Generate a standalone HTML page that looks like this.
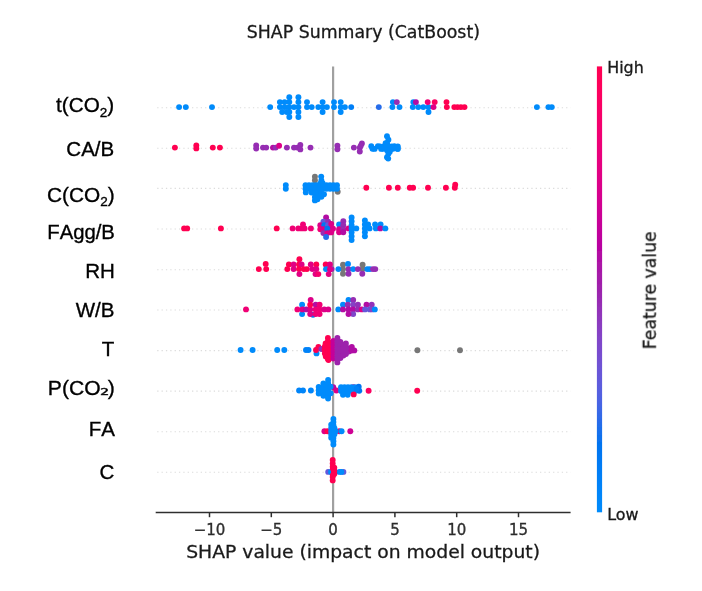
<!DOCTYPE html>
<html lang="en"><head><meta charset="utf-8"><title>SHAP Summary (CatBoost)</title>
<style>html,body{margin:0;padding:0;background:#fff}body{width:702px;height:591px;overflow:hidden}svg{display:block}.dv{font-family:"DejaVu Sans","Liberation Sans",sans-serif;stroke:#1a1a1a;stroke-width:.3px}.ar{font-family:"Liberation Sans",Arial,sans-serif;font-kerning:none;stroke:#000;stroke-width:.35px}</style></head><body>
<svg width="702" height="591" viewBox="0 0 702 591">
<defs><linearGradient id="cb" x1="0" y1="0" x2="0" y2="1"><stop offset="0.00" stop-color="#ff0051"/><stop offset="0.05" stop-color="#fe005c"/><stop offset="0.10" stop-color="#f80067"/><stop offset="0.15" stop-color="#f10072"/><stop offset="0.20" stop-color="#e9007c"/><stop offset="0.25" stop-color="#df0086"/><stop offset="0.30" stop-color="#d40090"/><stop offset="0.35" stop-color="#c70098"/><stop offset="0.40" stop-color="#b900a0"/><stop offset="0.45" stop-color="#aa17a7"/><stop offset="0.50" stop-color="#9d22ac"/><stop offset="0.55" stop-color="#9233b9"/><stop offset="0.60" stop-color="#8542c5"/><stop offset="0.65" stop-color="#764ed0"/><stop offset="0.70" stop-color="#6459da"/><stop offset="0.75" stop-color="#4c63e3"/><stop offset="0.80" stop-color="#266cea"/><stop offset="0.85" stop-color="#0074f0"/><stop offset="0.90" stop-color="#007cf5"/><stop offset="0.95" stop-color="#0084f9"/><stop offset="1.00" stop-color="#008bfb"/></linearGradient><filter id="soft" x="-2%" y="-2%" width="104%" height="104%"><feGaussianBlur stdDeviation="0.6"/></filter></defs>
<rect width="702" height="591" fill="#ffffff"/>
<g filter="url(#soft)">
<text class="dv" transform="translate(363.4,38.45) scale(1.027,1)" font-size="16.9" text-anchor="middle" fill="#1a1a1a">SHAP Summary (CatBoost)</text>
<line x1="157.2" y1="107.7" x2="570.6" y2="107.7" stroke="#dcdcdc" stroke-width="1.1" stroke-dasharray="1.3 3.05"/>
<line x1="157.2" y1="148.2" x2="570.6" y2="148.2" stroke="#dcdcdc" stroke-width="1.1" stroke-dasharray="1.3 3.05"/>
<line x1="157.2" y1="188.4" x2="570.6" y2="188.4" stroke="#dcdcdc" stroke-width="1.1" stroke-dasharray="1.3 3.05"/>
<line x1="157.2" y1="229.0" x2="570.6" y2="229.0" stroke="#dcdcdc" stroke-width="1.1" stroke-dasharray="1.3 3.05"/>
<line x1="157.2" y1="269.7" x2="570.6" y2="269.7" stroke="#dcdcdc" stroke-width="1.1" stroke-dasharray="1.3 3.05"/>
<line x1="157.2" y1="310.0" x2="570.6" y2="310.0" stroke="#dcdcdc" stroke-width="1.1" stroke-dasharray="1.3 3.05"/>
<line x1="157.2" y1="350.6" x2="570.6" y2="350.6" stroke="#dcdcdc" stroke-width="1.1" stroke-dasharray="1.3 3.05"/>
<line x1="157.2" y1="391.1" x2="570.6" y2="391.1" stroke="#dcdcdc" stroke-width="1.1" stroke-dasharray="1.3 3.05"/>
<line x1="157.2" y1="431.8" x2="570.6" y2="431.8" stroke="#dcdcdc" stroke-width="1.1" stroke-dasharray="1.3 3.05"/>
<line x1="157.2" y1="472.2" x2="570.6" y2="472.2" stroke="#dcdcdc" stroke-width="1.1" stroke-dasharray="1.3 3.05"/>
<line x1="333.1" y1="66.4" x2="333.1" y2="512.4" stroke="#a0a0a0" stroke-width="2.2"/>
<circle cx="179.1" cy="107.1" r="2.95" fill="#008bfb"/>
<circle cx="185.8" cy="107.1" r="2.95" fill="#008bfb"/>
<circle cx="212.0" cy="107.1" r="2.95" fill="#008bfb"/>
<circle cx="270.2" cy="107.1" r="2.95" fill="#008bfb"/>
<circle cx="289.3" cy="97.2" r="2.95" fill="#008bfb"/>
<circle cx="298.4" cy="97.2" r="2.95" fill="#008bfb"/>
<circle cx="279.9" cy="102.1" r="2.95" fill="#008bfb"/>
<circle cx="284.6" cy="102.1" r="2.95" fill="#008bfb"/>
<circle cx="289.3" cy="102.1" r="2.95" fill="#008bfb"/>
<circle cx="298.4" cy="102.1" r="2.95" fill="#008bfb"/>
<circle cx="307.0" cy="102.1" r="2.95" fill="#008bfb"/>
<circle cx="322.6" cy="102.1" r="2.95" fill="#008bfb"/>
<circle cx="334.0" cy="102.1" r="2.95" fill="#008bfb"/>
<circle cx="340.7" cy="102.1" r="2.95" fill="#008bfb"/>
<circle cx="279.9" cy="107.1" r="2.95" fill="#008bfb"/>
<circle cx="284.6" cy="107.1" r="2.95" fill="#008bfb"/>
<circle cx="289.3" cy="107.1" r="2.95" fill="#008bfb"/>
<circle cx="294.0" cy="107.1" r="2.95" fill="#008bfb"/>
<circle cx="298.4" cy="107.1" r="2.95" fill="#008bfb"/>
<circle cx="307.0" cy="107.1" r="2.95" fill="#008bfb"/>
<circle cx="311.7" cy="107.1" r="2.95" fill="#008bfb"/>
<circle cx="318.3" cy="107.1" r="2.95" fill="#008bfb"/>
<circle cx="322.6" cy="107.1" r="2.95" fill="#008bfb"/>
<circle cx="326.9" cy="107.1" r="2.95" fill="#008bfb"/>
<circle cx="334.0" cy="107.1" r="2.95" fill="#008bfb"/>
<circle cx="340.7" cy="107.1" r="2.95" fill="#008bfb"/>
<circle cx="344.9" cy="107.1" r="2.95" fill="#008bfb"/>
<circle cx="282.2" cy="112.0" r="2.95" fill="#008bfb"/>
<circle cx="286.9" cy="112.0" r="2.95" fill="#008bfb"/>
<circle cx="289.3" cy="112.0" r="2.95" fill="#008bfb"/>
<circle cx="298.4" cy="112.0" r="2.95" fill="#008bfb"/>
<circle cx="322.6" cy="112.0" r="2.95" fill="#008bfb"/>
<circle cx="340.7" cy="112.0" r="2.95" fill="#008bfb"/>
<circle cx="289.3" cy="117.0" r="2.95" fill="#008bfb"/>
<circle cx="298.4" cy="117.0" r="2.95" fill="#008bfb"/>
<circle cx="351.2" cy="107.1" r="2.95" fill="#007ff7"/>
<circle cx="378.8" cy="107.1" r="2.95" fill="#266cea"/>
<circle cx="392.4" cy="107.1" r="2.95" fill="#008bfb"/>
<circle cx="399.5" cy="107.1" r="2.95" fill="#008bfb"/>
<circle cx="412.8" cy="107.1" r="2.95" fill="#008bfb"/>
<circle cx="418.3" cy="107.1" r="2.95" fill="#008bfb"/>
<circle cx="423.3" cy="107.1" r="2.95" fill="#008bfb"/>
<circle cx="392.9" cy="102.1" r="2.95" fill="#008bfb"/>
<circle cx="396.8" cy="102.1" r="2.95" fill="#962db3"/>
<circle cx="413.3" cy="102.1" r="2.95" fill="#008bfb"/>
<circle cx="415.9" cy="102.1" r="2.95" fill="#b30aa3"/>
<circle cx="428.5" cy="107.1" r="2.95" fill="#008bfb"/>
<circle cx="428.5" cy="112.0" r="2.95" fill="#008bfb"/>
<circle cx="427.7" cy="102.1" r="2.95" fill="#f00074"/>
<circle cx="434.7" cy="102.1" r="2.95" fill="#fb0063"/>
<circle cx="433.5" cy="107.1" r="2.95" fill="#dd0088"/>
<circle cx="446.5" cy="102.1" r="2.95" fill="#ff0051"/>
<circle cx="446.8" cy="107.1" r="2.95" fill="#ff0051"/>
<circle cx="454.3" cy="107.1" r="2.95" fill="#ff0051"/>
<circle cx="457.5" cy="107.1" r="2.95" fill="#ff0051"/>
<circle cx="460.9" cy="107.1" r="2.95" fill="#ff0051"/>
<circle cx="464.5" cy="107.1" r="2.95" fill="#ff0051"/>
<circle cx="536.9" cy="107.1" r="2.95" fill="#008bfb"/>
<circle cx="548.4" cy="107.1" r="2.95" fill="#008bfb"/>
<circle cx="551.8" cy="107.1" r="2.95" fill="#008bfb"/>
<circle cx="174.9" cy="147.6" r="2.95" fill="#ff0051"/>
<circle cx="196.3" cy="145.4" r="2.95" fill="#ff0051"/>
<circle cx="196.3" cy="148.4" r="2.95" fill="#ff0051"/>
<circle cx="212.8" cy="147.6" r="2.95" fill="#ff0051"/>
<circle cx="219.9" cy="147.6" r="2.95" fill="#ff0051"/>
<circle cx="256.2" cy="145.4" r="2.95" fill="#962db3"/>
<circle cx="256.2" cy="148.6" r="2.95" fill="#962db3"/>
<circle cx="263.0" cy="147.6" r="2.95" fill="#962db3"/>
<circle cx="266.2" cy="147.6" r="2.95" fill="#962db3"/>
<circle cx="273.0" cy="147.6" r="2.95" fill="#b30aa3"/>
<circle cx="275.7" cy="147.6" r="2.95" fill="#962db3"/>
<circle cx="279.1" cy="145.8" r="2.95" fill="#dd0088"/>
<circle cx="286.9" cy="147.6" r="2.95" fill="#962db3"/>
<circle cx="294.0" cy="147.6" r="2.95" fill="#962db3"/>
<circle cx="297.3" cy="147.6" r="2.95" fill="#962db3"/>
<circle cx="300.3" cy="145.0" r="2.95" fill="#962db3"/>
<circle cx="300.3" cy="149.4" r="2.95" fill="#962db3"/>
<circle cx="310.5" cy="147.6" r="2.95" fill="#962db3"/>
<circle cx="337.4" cy="145.6" r="2.95" fill="#962db3"/>
<circle cx="337.4" cy="149.2" r="2.95" fill="#962db3"/>
<circle cx="353.9" cy="147.6" r="2.95" fill="#962db3"/>
<circle cx="359.8" cy="147.6" r="2.95" fill="#962db3"/>
<circle cx="359.8" cy="151.5" r="2.95" fill="#962db3"/>
<circle cx="361.9" cy="143.4" r="2.95" fill="#962db3"/>
<circle cx="360.8" cy="145.8" r="2.95" fill="#962db3"/>
<circle cx="386.6" cy="143.6" r="2.95" fill="#b30aa3"/>
<circle cx="371.3" cy="146.3" r="2.95" fill="#008bfb"/>
<circle cx="374.6" cy="148.9" r="2.95" fill="#008bfb"/>
<circle cx="377.9" cy="146.3" r="2.95" fill="#008bfb"/>
<circle cx="381.2" cy="148.9" r="2.95" fill="#008bfb"/>
<circle cx="384.5" cy="146.3" r="2.95" fill="#008bfb"/>
<circle cx="391.0" cy="148.9" r="2.95" fill="#008bfb"/>
<circle cx="394.3" cy="146.3" r="2.95" fill="#008bfb"/>
<circle cx="397.6" cy="148.9" r="2.95" fill="#008bfb"/>
<circle cx="372.5" cy="148.8" r="2.95" fill="#008bfb"/>
<circle cx="383.0" cy="148.8" r="2.95" fill="#008bfb"/>
<circle cx="393.0" cy="148.8" r="2.95" fill="#008bfb"/>
<circle cx="397.8" cy="148.8" r="2.95" fill="#008bfb"/>
<circle cx="380.0" cy="146.4" r="2.95" fill="#008bfb"/>
<circle cx="384.2" cy="146.4" r="2.95" fill="#008bfb"/>
<circle cx="391.5" cy="146.4" r="2.95" fill="#008bfb"/>
<circle cx="397.8" cy="146.4" r="2.95" fill="#008bfb"/>
<circle cx="387.0" cy="136.3" r="2.95" fill="#008bfb"/>
<circle cx="388.4" cy="139.8" r="2.95" fill="#008bfb"/>
<circle cx="387.0" cy="143.3" r="2.95" fill="#008bfb"/>
<circle cx="388.4" cy="146.8" r="2.95" fill="#008bfb"/>
<circle cx="387.0" cy="150.3" r="2.95" fill="#008bfb"/>
<circle cx="388.4" cy="153.8" r="2.95" fill="#008bfb"/>
<circle cx="387.0" cy="157.3" r="2.95" fill="#008bfb"/>
<circle cx="388.2" cy="158.6" r="2.95" fill="#008bfb"/>
<circle cx="385.6" cy="143.2" r="2.95" fill="#008bfb"/>
<circle cx="389.8" cy="151.8" r="2.95" fill="#008bfb"/>
<circle cx="314.9" cy="176.6" r="2.95" fill="#777777"/>
<circle cx="314.9" cy="180.3" r="2.95" fill="#777777"/>
<circle cx="337.7" cy="191.8" r="2.95" fill="#777777"/>
<circle cx="285.8" cy="185.1" r="2.95" fill="#008bfb"/>
<circle cx="285.8" cy="188.7" r="2.95" fill="#008bfb"/>
<circle cx="305.5" cy="185.2" r="2.95" fill="#008bfb"/>
<circle cx="305.5" cy="188.8" r="2.95" fill="#008bfb"/>
<circle cx="309.0" cy="185.2" r="2.95" fill="#008bfb"/>
<circle cx="309.0" cy="188.8" r="2.95" fill="#008bfb"/>
<circle cx="312.5" cy="185.2" r="2.95" fill="#008bfb"/>
<circle cx="312.5" cy="188.8" r="2.95" fill="#008bfb"/>
<circle cx="316.0" cy="185.2" r="2.95" fill="#008bfb"/>
<circle cx="316.0" cy="188.8" r="2.95" fill="#008bfb"/>
<circle cx="319.5" cy="185.2" r="2.95" fill="#008bfb"/>
<circle cx="319.5" cy="188.8" r="2.95" fill="#008bfb"/>
<circle cx="323.0" cy="185.2" r="2.95" fill="#008bfb"/>
<circle cx="323.0" cy="188.8" r="2.95" fill="#008bfb"/>
<circle cx="326.5" cy="185.2" r="2.95" fill="#008bfb"/>
<circle cx="326.5" cy="188.8" r="2.95" fill="#008bfb"/>
<circle cx="330.0" cy="185.2" r="2.95" fill="#008bfb"/>
<circle cx="330.0" cy="188.8" r="2.95" fill="#008bfb"/>
<circle cx="333.5" cy="185.2" r="2.95" fill="#008bfb"/>
<circle cx="333.5" cy="188.8" r="2.95" fill="#008bfb"/>
<circle cx="337.0" cy="185.2" r="2.95" fill="#008bfb"/>
<circle cx="337.0" cy="188.8" r="2.95" fill="#008bfb"/>
<circle cx="321.2" cy="176.6" r="2.95" fill="#008bfb"/>
<circle cx="321.4" cy="180.4" r="2.95" fill="#008bfb"/>
<circle cx="320.2" cy="183.6" r="2.95" fill="#008bfb"/>
<circle cx="322.6" cy="183.2" r="2.95" fill="#008bfb"/>
<circle cx="305.8" cy="192.4" r="2.95" fill="#008bfb"/>
<circle cx="311.5" cy="192.6" r="2.95" fill="#008bfb"/>
<circle cx="314.9" cy="193.0" r="2.95" fill="#008bfb"/>
<circle cx="318.0" cy="193.0" r="2.95" fill="#008bfb"/>
<circle cx="321.3" cy="193.0" r="2.95" fill="#008bfb"/>
<circle cx="324.0" cy="194.3" r="2.95" fill="#008bfb"/>
<circle cx="314.9" cy="197.0" r="2.95" fill="#008bfb"/>
<circle cx="318.4" cy="196.6" r="2.95" fill="#008bfb"/>
<circle cx="321.4" cy="196.8" r="2.95" fill="#008bfb"/>
<circle cx="314.9" cy="200.4" r="2.95" fill="#008bfb"/>
<circle cx="317.5" cy="199.3" r="2.95" fill="#008bfb"/>
<circle cx="366.3" cy="187.8" r="2.95" fill="#ff0051"/>
<circle cx="388.9" cy="187.8" r="2.95" fill="#ff0051"/>
<circle cx="397.8" cy="187.8" r="2.95" fill="#ff0051"/>
<circle cx="409.8" cy="187.8" r="2.95" fill="#ff0051"/>
<circle cx="413.1" cy="187.8" r="2.95" fill="#ff0051"/>
<circle cx="428.0" cy="187.8" r="2.95" fill="#ff0051"/>
<circle cx="445.9" cy="187.8" r="2.95" fill="#ff0051"/>
<circle cx="454.8" cy="187.8" r="2.95" fill="#ff0051"/>
<circle cx="455.2" cy="184.7" r="2.95" fill="#ff0051"/>
<circle cx="184.1" cy="228.4" r="2.95" fill="#ff0051"/>
<circle cx="187.2" cy="228.4" r="2.95" fill="#ff0051"/>
<circle cx="220.9" cy="228.4" r="2.95" fill="#ff0051"/>
<circle cx="276.7" cy="228.4" r="2.95" fill="#ff0051"/>
<circle cx="292.6" cy="228.4" r="2.95" fill="#f00074"/>
<circle cx="298.3" cy="228.4" r="2.95" fill="#f00074"/>
<circle cx="301.5" cy="228.4" r="2.95" fill="#f00074"/>
<circle cx="304.6" cy="228.4" r="2.95" fill="#f00074"/>
<circle cx="310.9" cy="228.4" r="2.95" fill="#f00074"/>
<circle cx="303.0" cy="224.5" r="2.95" fill="#f00074"/>
<circle cx="326.1" cy="217.4" r="2.95" fill="#b30aa3"/>
<circle cx="323.4" cy="221.8" r="2.95" fill="#6459da"/>
<circle cx="328.1" cy="221.8" r="2.95" fill="#962db3"/>
<circle cx="320.3" cy="225.2" r="2.95" fill="#dd0088"/>
<circle cx="324.2" cy="225.2" r="2.95" fill="#0076f1"/>
<circle cx="328.1" cy="225.2" r="2.95" fill="#6459da"/>
<circle cx="331.2" cy="223.9" r="2.95" fill="#dd0088"/>
<circle cx="320.3" cy="229.2" r="2.95" fill="#f00074"/>
<circle cx="323.4" cy="229.2" r="2.95" fill="#dd0088"/>
<circle cx="331.2" cy="228.7" r="2.95" fill="#dd0088"/>
<circle cx="333.0" cy="228.7" r="2.95" fill="#dd0088"/>
<circle cx="327.3" cy="228.7" r="2.95" fill="#0076f1"/>
<circle cx="323.4" cy="233.1" r="2.95" fill="#962db3"/>
<circle cx="327.3" cy="233.1" r="2.95" fill="#dd0088"/>
<circle cx="331.2" cy="232.4" r="2.95" fill="#dd0088"/>
<circle cx="326.1" cy="237.0" r="2.95" fill="#266cea"/>
<circle cx="339.1" cy="224.5" r="2.95" fill="#008bfb"/>
<circle cx="339.1" cy="229.2" r="2.95" fill="#dd0088"/>
<circle cx="339.1" cy="232.3" r="2.95" fill="#dd0088"/>
<circle cx="343.3" cy="221.3" r="2.95" fill="#962db3"/>
<circle cx="343.3" cy="225.2" r="2.95" fill="#962db3"/>
<circle cx="343.3" cy="229.2" r="2.95" fill="#962db3"/>
<circle cx="343.3" cy="232.3" r="2.95" fill="#b30aa3"/>
<circle cx="348.5" cy="228.4" r="2.95" fill="#dd0088"/>
<circle cx="351.6" cy="217.4" r="2.95" fill="#008bfb"/>
<circle cx="351.6" cy="221.3" r="2.95" fill="#008bfb"/>
<circle cx="351.6" cy="225.2" r="2.95" fill="#008bfb"/>
<circle cx="351.6" cy="228.4" r="2.95" fill="#008bfb"/>
<circle cx="351.6" cy="232.3" r="2.95" fill="#008bfb"/>
<circle cx="351.6" cy="236.2" r="2.95" fill="#008bfb"/>
<circle cx="351.6" cy="240.1" r="2.95" fill="#008bfb"/>
<circle cx="356.3" cy="228.4" r="2.95" fill="#008bfb"/>
<circle cx="364.9" cy="220.5" r="2.95" fill="#008bfb"/>
<circle cx="364.9" cy="224.5" r="2.95" fill="#008bfb"/>
<circle cx="364.9" cy="228.4" r="2.95" fill="#008bfb"/>
<circle cx="364.9" cy="232.3" r="2.95" fill="#008bfb"/>
<circle cx="364.9" cy="236.2" r="2.95" fill="#008bfb"/>
<circle cx="368.1" cy="224.5" r="2.95" fill="#008bfb"/>
<circle cx="369.6" cy="228.4" r="2.95" fill="#008bfb"/>
<circle cx="375.1" cy="224.5" r="2.95" fill="#008bfb"/>
<circle cx="375.9" cy="228.4" r="2.95" fill="#008bfb"/>
<circle cx="380.6" cy="224.5" r="2.95" fill="#008bfb"/>
<circle cx="380.3" cy="228.4" r="2.95" fill="#b30aa3"/>
<circle cx="385.3" cy="228.4" r="2.95" fill="#008bfb"/>
<circle cx="343.0" cy="264.7" r="2.95" fill="#777777"/>
<circle cx="343.0" cy="269.1" r="2.95" fill="#777777"/>
<circle cx="343.0" cy="273.7" r="2.95" fill="#777777"/>
<circle cx="362.6" cy="264.7" r="2.95" fill="#777777"/>
<circle cx="362.6" cy="269.1" r="2.95" fill="#777777"/>
<circle cx="258.8" cy="269.1" r="2.95" fill="#ff0051"/>
<circle cx="265.7" cy="263.9" r="2.95" fill="#ff0051"/>
<circle cx="266.2" cy="269.1" r="2.95" fill="#ff0051"/>
<circle cx="287.3" cy="269.1" r="2.95" fill="#ff0051"/>
<circle cx="288.9" cy="264.4" r="2.95" fill="#ff0051"/>
<circle cx="293.6" cy="264.4" r="2.95" fill="#e10084"/>
<circle cx="293.6" cy="269.1" r="2.95" fill="#e10084"/>
<circle cx="299.4" cy="259.2" r="2.95" fill="#ff0051"/>
<circle cx="299.0" cy="264.4" r="2.95" fill="#ff0051"/>
<circle cx="301.6" cy="264.4" r="2.95" fill="#e10084"/>
<circle cx="299.0" cy="269.1" r="2.95" fill="#ff0051"/>
<circle cx="299.4" cy="274.1" r="2.95" fill="#e10084"/>
<circle cx="303.8" cy="269.1" r="2.95" fill="#ff0051"/>
<circle cx="306.9" cy="269.1" r="2.95" fill="#ff0051"/>
<circle cx="310.8" cy="264.4" r="2.95" fill="#e10084"/>
<circle cx="312.4" cy="269.1" r="2.95" fill="#e10084"/>
<circle cx="316.3" cy="264.4" r="2.95" fill="#ff0051"/>
<circle cx="316.3" cy="269.1" r="2.95" fill="#e10084"/>
<circle cx="315.5" cy="274.1" r="2.95" fill="#e10084"/>
<circle cx="325.7" cy="264.4" r="2.95" fill="#ff0051"/>
<circle cx="329.9" cy="264.4" r="2.95" fill="#e10084"/>
<circle cx="331.6" cy="269.1" r="2.95" fill="#9d22ac"/>
<circle cx="326.0" cy="269.1" r="2.95" fill="#008bfb"/>
<circle cx="330.0" cy="269.3" r="2.95" fill="#e10084"/>
<circle cx="328.7" cy="274.1" r="2.95" fill="#e10084"/>
<circle cx="318.3" cy="274.1" r="2.95" fill="#f6006c"/>
<circle cx="338.4" cy="269.1" r="2.95" fill="#008bfb"/>
<circle cx="348.0" cy="263.9" r="2.95" fill="#008bfb"/>
<circle cx="348.5" cy="269.1" r="2.95" fill="#962db3"/>
<circle cx="348.5" cy="273.7" r="2.95" fill="#962db3"/>
<circle cx="353.2" cy="269.1" r="2.95" fill="#008bfb"/>
<circle cx="357.9" cy="269.1" r="2.95" fill="#962db3"/>
<circle cx="362.3" cy="273.7" r="2.95" fill="#962db3"/>
<circle cx="367.3" cy="269.1" r="2.95" fill="#008bfb"/>
<circle cx="369.9" cy="269.1" r="2.95" fill="#008bfb"/>
<circle cx="373.0" cy="269.1" r="2.95" fill="#962db3"/>
<circle cx="375.3" cy="269.1" r="2.95" fill="#962db3"/>
<circle cx="246.0" cy="309.4" r="2.95" fill="#f00074"/>
<circle cx="297.4" cy="309.4" r="2.95" fill="#f00074"/>
<circle cx="302.1" cy="304.7" r="2.95" fill="#008bfb"/>
<circle cx="302.1" cy="314.1" r="2.95" fill="#008bfb"/>
<circle cx="302.4" cy="309.4" r="2.95" fill="#dd0088"/>
<circle cx="306.3" cy="309.4" r="2.95" fill="#b30aa3"/>
<circle cx="313.0" cy="314.7" r="2.95" fill="#0076f1"/>
<circle cx="310.7" cy="300.0" r="2.95" fill="#dd0088"/>
<circle cx="310.2" cy="309.4" r="2.95" fill="#dd0088"/>
<circle cx="310.2" cy="314.1" r="2.95" fill="#dd0088"/>
<circle cx="310.2" cy="304.7" r="2.95" fill="#ff0051"/>
<circle cx="315.7" cy="304.7" r="2.95" fill="#b30aa3"/>
<circle cx="319.6" cy="304.7" r="2.95" fill="#f00074"/>
<circle cx="315.7" cy="309.4" r="2.95" fill="#f00074"/>
<circle cx="319.6" cy="309.4" r="2.95" fill="#f00074"/>
<circle cx="315.7" cy="314.1" r="2.95" fill="#f00074"/>
<circle cx="319.6" cy="314.1" r="2.95" fill="#f00074"/>
<circle cx="324.3" cy="309.4" r="2.95" fill="#dd0088"/>
<circle cx="328.3" cy="309.4" r="2.95" fill="#dd0088"/>
<circle cx="338.3" cy="309.4" r="2.95" fill="#008bfb"/>
<circle cx="343.0" cy="304.7" r="2.95" fill="#008bfb"/>
<circle cx="343.0" cy="309.4" r="2.95" fill="#b30aa3"/>
<circle cx="348.5" cy="300.0" r="2.95" fill="#008bfb"/>
<circle cx="353.2" cy="300.0" r="2.95" fill="#962db3"/>
<circle cx="347.7" cy="304.7" r="2.95" fill="#962db3"/>
<circle cx="353.2" cy="304.7" r="2.95" fill="#8542c5"/>
<circle cx="357.9" cy="304.7" r="2.95" fill="#9233b9"/>
<circle cx="348.5" cy="309.4" r="2.95" fill="#b30aa3"/>
<circle cx="353.2" cy="309.4" r="2.95" fill="#b30aa3"/>
<circle cx="357.9" cy="309.4" r="2.95" fill="#962db3"/>
<circle cx="361.8" cy="309.4" r="2.95" fill="#dd0088"/>
<circle cx="353.2" cy="314.1" r="2.95" fill="#7f47c9"/>
<circle cx="348.5" cy="314.1" r="2.95" fill="#b30aa3"/>
<circle cx="366.5" cy="304.7" r="2.95" fill="#b30aa3"/>
<circle cx="371.7" cy="304.7" r="2.95" fill="#9233b9"/>
<circle cx="365.0" cy="309.4" r="2.95" fill="#6459da"/>
<circle cx="369.7" cy="309.4" r="2.95" fill="#6459da"/>
<circle cx="372.1" cy="309.4" r="2.95" fill="#8542c5"/>
<circle cx="374.8" cy="309.4" r="2.95" fill="#008bfb"/>
<circle cx="240.6" cy="350.0" r="2.95" fill="#008bfb"/>
<circle cx="252.6" cy="350.0" r="2.95" fill="#008bfb"/>
<circle cx="277.2" cy="350.0" r="2.95" fill="#008bfb"/>
<circle cx="284.3" cy="350.0" r="2.95" fill="#008bfb"/>
<circle cx="306.0" cy="350.0" r="2.95" fill="#0082f8"/>
<circle cx="308.5" cy="350.0" r="2.95" fill="#0082f8"/>
<circle cx="316.5" cy="353.4" r="2.95" fill="#008bfb"/>
<circle cx="316.0" cy="350.0" r="2.95" fill="#ff0051"/>
<circle cx="318.4" cy="347.0" r="2.95" fill="#ff0051"/>
<circle cx="321.4" cy="349.0" r="2.95" fill="#962db3"/>
<circle cx="325.6" cy="343.4" r="2.95" fill="#ff0051"/>
<circle cx="324.9" cy="346.5" r="2.95" fill="#ff0051"/>
<circle cx="324.6" cy="350.0" r="2.95" fill="#ff0051"/>
<circle cx="324.9" cy="353.5" r="2.95" fill="#ff0051"/>
<circle cx="325.8" cy="356.4" r="2.95" fill="#ff0051"/>
<circle cx="327.9" cy="338.0" r="2.95" fill="#ff0051"/>
<circle cx="327.9" cy="341.5" r="2.95" fill="#ff0051"/>
<circle cx="327.9" cy="345.0" r="2.95" fill="#ff0051"/>
<circle cx="327.9" cy="348.5" r="2.95" fill="#ff0051"/>
<circle cx="327.9" cy="352.0" r="2.95" fill="#ff0051"/>
<circle cx="327.9" cy="355.5" r="2.95" fill="#ff0051"/>
<circle cx="327.9" cy="359.0" r="2.95" fill="#ff0051"/>
<circle cx="330.4" cy="343.0" r="2.95" fill="#ff0051"/>
<circle cx="330.4" cy="346.5" r="2.95" fill="#ff0051"/>
<circle cx="330.4" cy="350.0" r="2.95" fill="#ff0051"/>
<circle cx="330.4" cy="353.5" r="2.95" fill="#ff0051"/>
<circle cx="330.4" cy="357.0" r="2.95" fill="#ff0051"/>
<circle cx="328.5" cy="360.0" r="2.95" fill="#ff0051"/>
<circle cx="333.4" cy="341.0" r="2.95" fill="#c5009a"/>
<circle cx="333.4" cy="344.5" r="2.95" fill="#c5009a"/>
<circle cx="333.4" cy="348.0" r="2.95" fill="#c5009a"/>
<circle cx="333.4" cy="351.5" r="2.95" fill="#c5009a"/>
<circle cx="333.4" cy="355.0" r="2.95" fill="#c5009a"/>
<circle cx="333.4" cy="358.5" r="2.95" fill="#c5009a"/>
<circle cx="337.4" cy="338.0" r="2.95" fill="#9d22ac"/>
<circle cx="337.4" cy="341.5" r="2.95" fill="#9d22ac"/>
<circle cx="337.4" cy="345.0" r="2.95" fill="#9d22ac"/>
<circle cx="337.4" cy="348.5" r="2.95" fill="#9d22ac"/>
<circle cx="337.4" cy="352.0" r="2.95" fill="#9d22ac"/>
<circle cx="337.4" cy="355.5" r="2.95" fill="#9d22ac"/>
<circle cx="337.4" cy="359.0" r="2.95" fill="#9d22ac"/>
<circle cx="337.4" cy="362.4" r="2.95" fill="#9d22ac"/>
<circle cx="340.4" cy="342.0" r="2.95" fill="#9d22ac"/>
<circle cx="340.4" cy="345.5" r="2.95" fill="#9d22ac"/>
<circle cx="340.4" cy="349.0" r="2.95" fill="#9d22ac"/>
<circle cx="340.4" cy="352.5" r="2.95" fill="#9d22ac"/>
<circle cx="340.4" cy="356.0" r="2.95" fill="#9d22ac"/>
<circle cx="340.4" cy="358.0" r="2.95" fill="#9d22ac"/>
<circle cx="343.4" cy="345.0" r="2.95" fill="#9d22ac"/>
<circle cx="343.4" cy="348.5" r="2.95" fill="#9d22ac"/>
<circle cx="343.4" cy="352.0" r="2.95" fill="#9d22ac"/>
<circle cx="343.4" cy="355.5" r="2.95" fill="#9d22ac"/>
<circle cx="345.9" cy="343.5" r="2.95" fill="#9d22ac"/>
<circle cx="345.9" cy="347.0" r="2.95" fill="#9d22ac"/>
<circle cx="345.9" cy="350.5" r="2.95" fill="#9d22ac"/>
<circle cx="345.9" cy="354.0" r="2.95" fill="#9d22ac"/>
<circle cx="348.9" cy="348.5" r="2.95" fill="#9d22ac"/>
<circle cx="348.9" cy="351.5" r="2.95" fill="#9d22ac"/>
<circle cx="351.8" cy="347.0" r="2.95" fill="#b00fa5"/>
<circle cx="351.5" cy="350.5" r="2.95" fill="#b00fa5"/>
<circle cx="354.3" cy="350.4" r="2.95" fill="#b00fa5"/>
<circle cx="417.4" cy="350.3" r="2.95" fill="#777777"/>
<circle cx="460.0" cy="350.3" r="2.95" fill="#777777"/>
<circle cx="333.3" cy="387.3" r="2.95" fill="#b30aa3"/>
<circle cx="353.4" cy="387.1" r="2.95" fill="#dd0088"/>
<circle cx="299.1" cy="390.5" r="2.95" fill="#0085f9"/>
<circle cx="303.0" cy="390.5" r="2.95" fill="#0085f9"/>
<circle cx="310.9" cy="390.5" r="2.95" fill="#0085f9"/>
<circle cx="318.7" cy="386.9" r="2.95" fill="#008bfb"/>
<circle cx="318.7" cy="390.2" r="2.95" fill="#008bfb"/>
<circle cx="318.7" cy="393.5" r="2.95" fill="#008bfb"/>
<circle cx="321.2" cy="388.5" r="2.95" fill="#008bfb"/>
<circle cx="321.2" cy="392.5" r="2.95" fill="#008bfb"/>
<circle cx="323.4" cy="383.5" r="2.95" fill="#008bfb"/>
<circle cx="323.4" cy="386.9" r="2.95" fill="#008bfb"/>
<circle cx="323.4" cy="390.2" r="2.95" fill="#008bfb"/>
<circle cx="323.4" cy="393.5" r="2.95" fill="#008bfb"/>
<circle cx="323.4" cy="395.7" r="2.95" fill="#008bfb"/>
<circle cx="325.8" cy="385.0" r="2.95" fill="#008bfb"/>
<circle cx="325.8" cy="392.5" r="2.95" fill="#008bfb"/>
<circle cx="328.1" cy="379.9" r="2.95" fill="#008bfb"/>
<circle cx="328.1" cy="383.3" r="2.95" fill="#008bfb"/>
<circle cx="328.1" cy="386.7" r="2.95" fill="#008bfb"/>
<circle cx="328.1" cy="390.1" r="2.95" fill="#008bfb"/>
<circle cx="328.1" cy="393.5" r="2.95" fill="#008bfb"/>
<circle cx="328.1" cy="396.7" r="2.95" fill="#008bfb"/>
<circle cx="328.1" cy="398.5" r="2.95" fill="#008bfb"/>
<circle cx="330.6" cy="386.7" r="2.95" fill="#008bfb"/>
<circle cx="330.6" cy="393.3" r="2.95" fill="#008bfb"/>
<circle cx="336.4" cy="390.5" r="2.95" fill="#dd0088"/>
<circle cx="341.0" cy="387.3" r="2.95" fill="#008bfb"/>
<circle cx="341.0" cy="391.0" r="2.95" fill="#008bfb"/>
<circle cx="344.5" cy="387.3" r="2.95" fill="#008bfb"/>
<circle cx="344.5" cy="391.0" r="2.95" fill="#008bfb"/>
<circle cx="348.0" cy="387.3" r="2.95" fill="#008bfb"/>
<circle cx="348.0" cy="391.0" r="2.95" fill="#008bfb"/>
<circle cx="351.5" cy="387.3" r="2.95" fill="#008bfb"/>
<circle cx="351.5" cy="391.0" r="2.95" fill="#008bfb"/>
<circle cx="355.0" cy="387.3" r="2.95" fill="#008bfb"/>
<circle cx="355.0" cy="391.0" r="2.95" fill="#008bfb"/>
<circle cx="343.0" cy="394.7" r="2.95" fill="#008bfb"/>
<circle cx="347.7" cy="394.7" r="2.95" fill="#008bfb"/>
<circle cx="358.7" cy="386.7" r="2.95" fill="#0076f1"/>
<circle cx="359.2" cy="390.7" r="2.95" fill="#0076f1"/>
<circle cx="356.6" cy="388.9" r="2.95" fill="#0081f7"/>
<circle cx="353.7" cy="394.4" r="2.95" fill="#ff0051"/>
<circle cx="368.6" cy="390.7" r="2.95" fill="#fc0061"/>
<circle cx="417.2" cy="390.7" r="2.95" fill="#ff0051"/>
<circle cx="324.4" cy="431.2" r="2.95" fill="#dd0088"/>
<circle cx="327.4" cy="431.2" r="2.95" fill="#ff0051"/>
<circle cx="339.3" cy="431.2" r="2.95" fill="#f80067"/>
<circle cx="333.4" cy="418.9" r="2.95" fill="#008bfb"/>
<circle cx="333.4" cy="422.1" r="2.95" fill="#008bfb"/>
<circle cx="333.4" cy="425.3" r="2.95" fill="#008bfb"/>
<circle cx="333.4" cy="428.5" r="2.95" fill="#008bfb"/>
<circle cx="333.4" cy="431.7" r="2.95" fill="#008bfb"/>
<circle cx="333.4" cy="434.9" r="2.95" fill="#008bfb"/>
<circle cx="333.4" cy="438.1" r="2.95" fill="#008bfb"/>
<circle cx="333.4" cy="441.3" r="2.95" fill="#008bfb"/>
<circle cx="333.4" cy="444.5" r="2.95" fill="#008bfb"/>
<circle cx="331.2" cy="424.7" r="2.95" fill="#008bfb"/>
<circle cx="331.2" cy="428.0" r="2.95" fill="#008bfb"/>
<circle cx="331.2" cy="431.2" r="2.95" fill="#008bfb"/>
<circle cx="331.2" cy="434.4" r="2.95" fill="#008bfb"/>
<circle cx="331.2" cy="437.7" r="2.95" fill="#008bfb"/>
<circle cx="335.6" cy="431.2" r="2.95" fill="#008bfb"/>
<circle cx="334.4" cy="428.2" r="2.95" fill="#008bfb"/>
<circle cx="334.4" cy="434.2" r="2.95" fill="#008bfb"/>
<circle cx="341.6" cy="431.2" r="2.95" fill="#008bfb"/>
<circle cx="350.3" cy="431.2" r="2.95" fill="#cf0093"/>
<circle cx="328.2" cy="471.9" r="2.95" fill="#6459da"/>
<circle cx="343.4" cy="471.9" r="2.95" fill="#6459da"/>
<circle cx="341.4" cy="471.9" r="2.95" fill="#008bfb"/>
<circle cx="339.4" cy="471.9" r="2.95" fill="#008bfb"/>
<circle cx="332.7" cy="460.0" r="2.95" fill="#ff0051"/>
<circle cx="332.7" cy="463.4" r="2.95" fill="#ff0051"/>
<circle cx="332.7" cy="466.8" r="2.95" fill="#ff0051"/>
<circle cx="332.7" cy="470.2" r="2.95" fill="#ff0051"/>
<circle cx="332.7" cy="473.6" r="2.95" fill="#ff0051"/>
<circle cx="332.7" cy="477.0" r="2.95" fill="#ff0051"/>
<circle cx="332.7" cy="480.4" r="2.95" fill="#ff0051"/>
<circle cx="331.0" cy="471.9" r="2.95" fill="#008bfb"/>
<circle cx="334.3" cy="467.6" r="2.95" fill="#ff0051"/>
<circle cx="334.3" cy="470.8" r="2.95" fill="#ff0051"/>
<circle cx="334.3" cy="474.0" r="2.95" fill="#ff0051"/>
<circle cx="334.0" cy="471.9" r="2.95" fill="#ff0051"/>
<circle cx="332.9" cy="468.4" r="2.95" fill="#ff0051"/>
<circle cx="332.9" cy="475.2" r="2.95" fill="#ff0051"/>
<line x1="155.7" y1="512.4" x2="570.6" y2="512.4" stroke="#2e2e2e" stroke-width="1.5"/>
<line x1="209.5" y1="512.4" x2="209.5" y2="517.2" stroke="#2e2e2e" stroke-width="1.5"/>
<text class="dv" x="209.5" y="534.6" font-size="15" text-anchor="middle" fill="#333333">−10</text>
<line x1="271.3" y1="512.4" x2="271.3" y2="517.2" stroke="#2e2e2e" stroke-width="1.5"/>
<text class="dv" x="271.3" y="534.6" font-size="15" text-anchor="middle" fill="#333333">−5</text>
<line x1="333.1" y1="512.4" x2="333.1" y2="517.2" stroke="#2e2e2e" stroke-width="1.5"/>
<text class="dv" x="333.1" y="534.6" font-size="15" text-anchor="middle" fill="#333333">0</text>
<line x1="394.9" y1="512.4" x2="394.9" y2="517.2" stroke="#2e2e2e" stroke-width="1.5"/>
<text class="dv" x="394.9" y="534.6" font-size="15" text-anchor="middle" fill="#333333">5</text>
<line x1="456.7" y1="512.4" x2="456.7" y2="517.2" stroke="#2e2e2e" stroke-width="1.5"/>
<text class="dv" x="456.7" y="534.6" font-size="15" text-anchor="middle" fill="#333333">10</text>
<line x1="518.5" y1="512.4" x2="518.5" y2="517.2" stroke="#2e2e2e" stroke-width="1.5"/>
<text class="dv" x="518.5" y="534.6" font-size="15" text-anchor="middle" fill="#333333">15</text>
<text class="dv" transform="translate(363.1,557.9) scale(1.045,1)" font-size="17.95" text-anchor="middle" fill="#1a1a1a">SHAP value (impact on model output)</text>
<text class="ar" x="114.2" y="112.3" font-size="20.7" text-anchor="end" fill="#000000">t(CO<tspan dy="4.5" font-size="13.5">2</tspan><tspan dy="-4.5">)</tspan></text>
<text class="ar" x="114.2" y="156.4" font-size="20.5" text-anchor="end" fill="#000000">CA/B</text>
<text class="ar" x="114.6" y="201.6" font-size="20.8" text-anchor="end" fill="#000000">C(CO<tspan dy="4.5" font-size="13.5">2</tspan><tspan dy="-4.5">)</tspan></text>
<text class="ar" x="114.9" y="238.9" font-size="20.3" text-anchor="end" fill="#000000">FAgg/B</text>
<text class="ar" x="114.8" y="278.2" font-size="20.5" text-anchor="end" fill="#000000">RH</text>
<text class="ar" x="114.4" y="317.3" font-size="20.5" text-anchor="end" fill="#000000">W/B</text>
<text class="ar" x="114.2" y="356.1" font-size="20.5" text-anchor="end" fill="#000000">T</text>
<g fill="#000000"><text class="ar" x="100.6" y="394.6" font-size="21.1" text-anchor="end">P(CO</text><text class="dv" transform="translate(100.1,394.6) scale(1.62,1)" font-size="14.4">₂</text><text class="ar" x="114.8" y="394.6" font-size="21.1" text-anchor="end">)</text></g>
<text class="ar" x="114.9" y="435.7" font-size="20.5" text-anchor="end" fill="#000000">FA</text>
<text class="ar" x="114.4" y="479.2" font-size="20.5" text-anchor="end" fill="#000000">C</text>
<rect x="596.9" y="66.4" width="5.2" height="445.9" fill="url(#cb)"/>
<text class="dv" transform="translate(607.2,72.8) scale(1.033,1)" font-size="15.43" fill="#1a1a1a">High</text>
<text class="dv" transform="translate(607.2,519.8) scale(1.033,1)" font-size="15.43" fill="#1a1a1a">Low</text>
<text class="dv" transform="translate(655.8,290.3) rotate(-90)" font-size="17.3" text-anchor="middle" fill="#1a1a1a">Feature value</text>
</g></svg></body></html>
